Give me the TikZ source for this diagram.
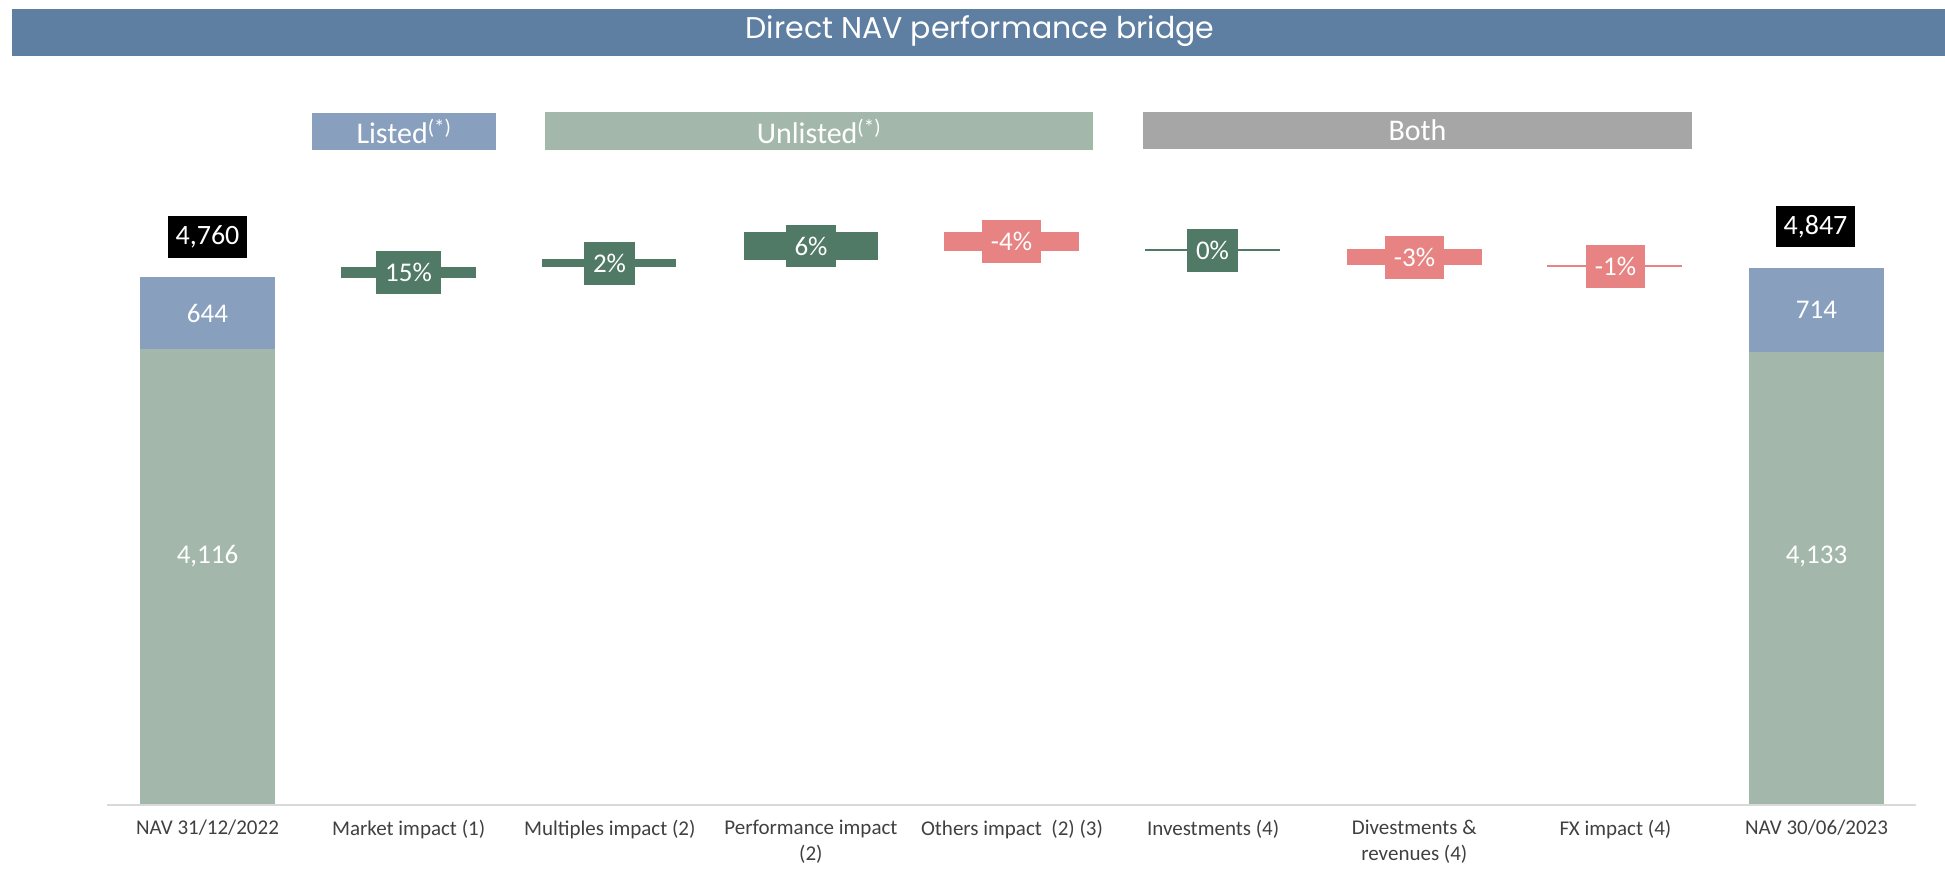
\documentclass[tikz,border=0pt]{standalone}
\usepackage{fontspec}
\setmainfont{Carlito}
\newfontfamily\titlefont{Poppins}
\definecolor{titleblue}{HTML}{5E7FA2}
\definecolor{listedblue}{HTML}{889FBD}
\definecolor{unlistedgreen}{HTML}{A3B8AA}
\definecolor{bothgray}{HTML}{A6A6A6}
\definecolor{darkgreen}{HTML}{507966}
\definecolor{salmon}{HTML}{E88383}
\definecolor{axisgray}{HTML}{D9D9D9}
\definecolor{labelgray}{HTML}{404040}
\tikzset{
  blk/.style={rectangle, inner sep=0pt, outer sep=0pt, draw=none},
  hdr/.style={blk, text=white, font=\fontsize{30}{34}\selectfont},
  val/.style={text=white, inner sep=0pt, font=\fontsize{27}{32}\selectfont},
  pct/.style={blk, text=white, font=\fontsize{27}{32}\selectfont},
  tot/.style={blk, fill=black, text=white, font=\fontsize{28}{32}\selectfont},
  cat/.style={anchor=north, align=center, inner sep=0pt, text=labelgray, font=\fontsize{21}{26}\selectfont},
}
\begin{document}
\begin{tikzpicture}[x=1pt,y=-1pt]
\useasboundingbox (0,0) rectangle (1945,870);
% title
\node[blk, fill=titleblue, minimum width=1933pt, minimum height=47pt] (title) at (978.5,32.5) {};
\node[text=white, font=\titlefont\fontsize{30}{34}\selectfont] (titletext) at (980,31) {Direct NAV performance bridge};
% headers
\node[hdr, fill=listedblue, minimum width=184pt, minimum height=37pt] (listed) at (404,131.5) {Listed\textsuperscript{(*)}};
\node[hdr, fill=unlistedgreen, minimum width=548pt, minimum height=38pt] (unlisted) at (819,131) {Unlisted\textsuperscript{(*)}};
\node[hdr, fill=bothgray, minimum width=549pt, minimum height=37pt] (both) at (1417.5,130.5) {Both};
% axis
\coordinate (axl) at (107,804.5);
\coordinate (axr) at (1916,804.5);
\draw[axisgray, line width=2pt] (axl) -- (axr);
% start bar
\node[blk, fill=unlistedgreen, minimum width=135pt, minimum height=455pt] (s1) at (207.5,576.5) {};
\node[blk, fill=listedblue, minimum width=135pt, minimum height=72pt] (s2) at (207.5,313) {};
\node[val] (s2t) at (207.5,313) {644};
\node[val] (s1t) at (207.5,556) {4,116};
\node[tot, minimum width=79pt, minimum height=42pt] (stot) at (207.5,237) {4,760};
% end bar
\node[blk, fill=unlistedgreen, minimum width=135pt, minimum height=452pt] (e1) at (1816.5,578) {};
\node[blk, fill=listedblue, minimum width=135pt, minimum height=84pt] (e2) at (1816.5,310) {};
\node[val] (e2t) at (1816.5,310) {714};
\node[val] (e1t) at (1816.5,556) {4,133};
\node[tot, minimum width=79pt, minimum height=41pt] (etot) at (1815.5,226.5) {4,847};
% market
\node[blk, fill=darkgreen, minimum width=135pt, minimum height=11pt] (m1) at (408.5,272.5) {};
\node[pct, fill=darkgreen, minimum width=65pt, minimum height=43pt] (m2) at (408.5,272.5) {15\%};
% multiples
\node[blk, fill=darkgreen, minimum width=134pt, minimum height=8pt] (mu1) at (609,263) {};
\node[pct, fill=darkgreen, minimum width=51pt, minimum height=43pt] (mu2) at (609.5,263.5) {2\%};
% performance
\node[blk, fill=darkgreen, minimum width=134pt, minimum height=28pt] (p1) at (811,246) {};
\node[pct, fill=darkgreen, minimum width=50pt, minimum height=42pt] (p2) at (811,246) {6\%};
% others
\node[blk, fill=salmon, minimum width=135pt, minimum height=19pt] (o1) at (1011.5,241.5) {};
\node[pct, fill=salmon, minimum width=59pt, minimum height=43pt] (o2) at (1011.5,241.5) {-4\%};
% investments
\node[blk, fill=darkgreen, minimum width=135pt, minimum height=2pt] (i1) at (1212.5,250) {};
\node[pct, fill=darkgreen, minimum width=51pt, minimum height=43pt] (i2) at (1212.5,250.5) {0\%};
% divestments
\node[blk, fill=salmon, minimum width=135pt, minimum height=16pt] (d1) at (1414.5,257) {};
\node[pct, fill=salmon, minimum width=59pt, minimum height=43pt] (d2) at (1414.5,257.5) {-3\%};
% fx
\node[blk, fill=salmon, minimum width=135pt, minimum height=2.5pt] (f1) at (1614.5,266) {};
\node[pct, fill=salmon, minimum width=59pt, minimum height=43pt] (f2) at (1615.5,266.5) {-1\%};
% category labels
\node[cat] (c1) at (207.5,820) {NAV 31/12/2022};
\node[cat] (c2) at (408.6,820) {Market impact (1)};
\node[cat] (c3) at (609.8,820) {Multiples impact (2)};
\node[cat] (c4) at (810.9,820) {Performance impact\\(2)};
\node[cat] (c5) at (1012,820) {Others impact\ \ (2) (3)};
\node[cat] (c6) at (1213.1,820) {Investments (4)};
\node[cat] (c7) at (1414.3,820) {Divestments \&\\revenues (4)};
\node[cat] (c8) at (1615.4,820) {FX impact (4)};
\node[cat] (c9) at (1816.5,820) {NAV 30/06/2023};
\end{tikzpicture}
\end{document}
